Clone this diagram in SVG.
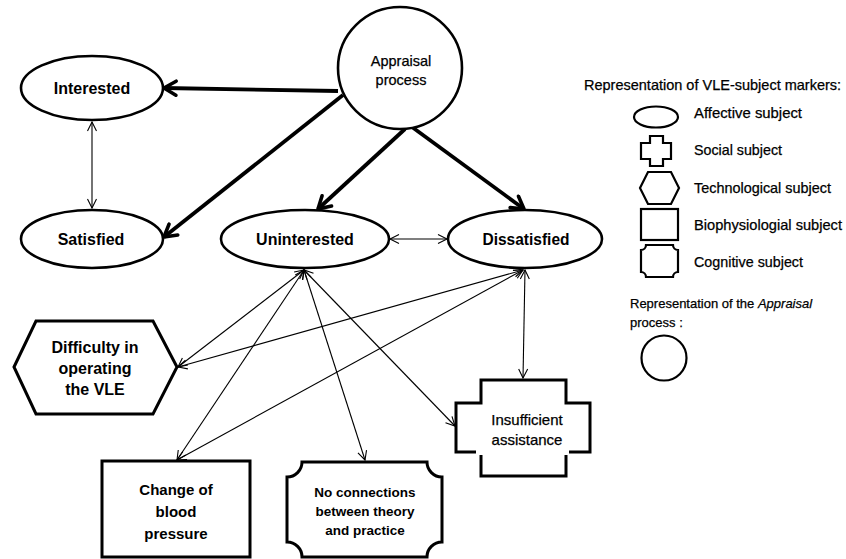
<svg xmlns="http://www.w3.org/2000/svg" width="846" height="559" viewBox="0 0 846 559">
<style>
text{font-family:"Liberation Sans",Arial,sans-serif;fill:#000;text-anchor:middle}
.b{font-weight:bold;font-size:16px}
.m{font-weight:bold;font-size:15px}
.s{font-weight:bold;font-size:13.5px}
.r{font-size:14.5px;stroke:#000;stroke-width:0.25}
.lg{font-size:14.5px;text-anchor:start;stroke:#000;stroke-width:0.25}
.lg2{font-size:13px;text-anchor:start;stroke:#000;stroke-width:0.25}
.node{fill:#fff;stroke:#000;stroke-width:2.6}
.shape{fill:#fff;stroke:#000;stroke-width:3}
.leg{fill:#fff;stroke:#000;stroke-width:2.2}
.thick{fill:none;stroke:#000;stroke-width:3.8;marker-end:url(#big)}
.thin{fill:none;stroke:#000;stroke-width:1.1;marker-start:url(#sm);marker-end:url(#sm)}
</style>
<defs>
<marker id="big" viewBox="0 0 18 18" refX="15" refY="9" markerWidth="18" markerHeight="18" orient="auto" markerUnits="userSpaceOnUse">
<path d="M3,2 L15,9 L3,16" fill="none" stroke="#000" stroke-width="3.6" stroke-linecap="round" stroke-linejoin="round"/>
</marker>
<marker id="sm" viewBox="0 0 12 12" refX="10" refY="6" markerWidth="12" markerHeight="12" orient="auto-start-reverse" markerUnits="userSpaceOnUse">
<path d="M1,1.5 L10,6 L1,10.5" fill="none" stroke="#000" stroke-width="1.1"/>
</marker>
</defs>
<rect width="846" height="559" fill="#fff"/>

<g id="connectors">
<path class="thick" d="M338,91 L164,88"/>
<path class="thick" d="M343,95 L164,237"/>
<path class="thick" d="M405,129 L318,209"/>
<path class="thick" d="M412,127 L524,209"/>
<path class="thin" d="M92,122 L92,208"/>
<path class="thin" d="M390,239 L447,239"/>
<path class="thin" d="M304,270 L178,367"/>
<path class="thin" d="M304,270 L177,460"/>
<path class="thin" d="M304,270 L365,460"/>
<path class="thin" d="M304,270 L455,426"/>
<path class="thin" d="M523,270 L178,367"/>
<path class="thin" d="M523,270 L177,460"/>
<path class="thin" d="M525,270 L523,378"/>
</g>

<g id="appraisal">
<ellipse class="node" cx="400" cy="68" rx="62" ry="61"/>
<text class="r" x="401" y="66">Appraisal</text>
<text class="r" x="401" y="85">process</text>
</g>
<g id="interested">
<ellipse class="node" cx="92" cy="88" rx="71" ry="32"/>
<text class="b" x="92" y="94">Interested</text>
</g>
<g id="satisfied">
<ellipse class="node" cx="92" cy="239" rx="71" ry="29"/>
<text class="b" x="91" y="245">Satisfied</text>
</g>
<g id="uninterested">
<ellipse class="node" cx="305" cy="239" rx="84" ry="29"/>
<text class="b" x="305" y="245">Uninterested</text>
</g>
<g id="dissatisfied">
<ellipse class="node" cx="525" cy="239" rx="77" ry="29"/>
<text class="b" x="526" y="245" textLength="87" lengthAdjust="spacingAndGlyphs">Dissatisfied</text>
</g>
<g id="difficulty">
<polygon class="shape" points="14,367 36,321 153,321 177,367 153,414 36,414"/>
<text class="b" x="95" y="353">Difficulty in</text>
<text class="b" x="95" y="374">operating</text>
<text class="b" x="95" y="395">the VLE</text>
</g>
<g id="blood">
<rect class="shape" x="102" y="461" width="148" height="96"/>
<text class="m" x="176" y="495">Change of</text>
<text class="m" x="176" y="517">blood</text>
<text class="m" x="176" y="539">pressure</text>
</g>
<g id="noconn">
<path class="shape" d="M302,462 H427 A15,15 0 0 0 442,477 V542 A15,15 0 0 0 427,557 H302 A15,15 0 0 0 287,542 V477 A15,15 0 0 0 302,462 Z"/>
<text class="s" x="365" y="497">No connections</text>
<text class="s" x="365" y="516">between theory</text>
<text class="s" x="365" y="535">and practice</text>
</g>
<g id="insufficient">
<path fill="#fff" stroke="none" d="M481,380 H566 V403 H590 V452 H566 V476 H481 V452 H456 V403 H481 Z"/>
<path fill="none" stroke="#000" stroke-width="3" d="M476,452 H456 V403 H481 V380 H566 V403 H590 V452 H569"/>
<path fill="none" stroke="#000" stroke-width="3" d="M481,455 V476 H566 V455"/>
<text class="r" x="527" y="425" style="font-size:15px">Insufficient</text>
<text class="r" x="527" y="445" style="font-size:15px">assistance</text>
</g>

<g id="legend">
<text class="lg" x="584" y="90">Representation of VLE-subject markers:</text>
<ellipse class="leg" cx="656" cy="117" rx="22" ry="10.5"/>
<text class="lg" x="694" y="118" textLength="108" lengthAdjust="spacingAndGlyphs">Affective subject</text>
<path class="leg" d="M650,136 H663 V143 H671 V159 H663 V166 H650 V159 H641 V143 H650 Z"/>
<text class="lg" x="694" y="155" textLength="88" lengthAdjust="spacingAndGlyphs">Social subject</text>
<polygon class="leg" points="640,188 648,172 671,172 679,188 671,204 648,204"/>
<text class="lg" x="694" y="193" textLength="137" lengthAdjust="spacingAndGlyphs">Technological subject</text>
<rect class="leg" x="641" y="209" width="37" height="31"/>
<text class="lg" x="694" y="230" textLength="148" lengthAdjust="spacingAndGlyphs">Biophysiologial  subject</text>
<path class="leg" d="M646,245 H673 A5,5 0 0 0 678,250 V272 A5,5 0 0 0 673,277 H646 A5,5 0 0 0 641,272 V250 A5,5 0 0 0 646,245 Z"/>
<text class="lg" x="694" y="267" textLength="109" lengthAdjust="spacingAndGlyphs">Cognitive subject</text>
<text class="lg2" x="630" y="308">Representation of the <tspan font-style="italic">Appraisal</tspan></text>
<text class="lg2" x="630" y="327">process :</text>
<circle class="leg" cx="664" cy="358" r="22.5"/>
</g>
</svg>
